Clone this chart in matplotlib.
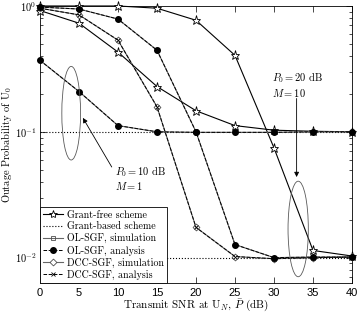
import numpy as np
import matplotlib
matplotlib.use('Agg')
import matplotlib.pyplot as plt
from matplotlib.patches import Ellipse
from matplotlib.lines import Line2D
from matplotlib.ticker import FixedLocator, FixedFormatter, NullFormatter, LogLocator

plt.rcParams['mathtext.fontset'] = 'cm'
plt.rcParams['font.family'] = 'cmr10'
plt.rcParams['axes.unicode_minus'] = False

# values (outage probability vs transmit SNR)
snr_db = [0, 5, 10, 15, 20, 25, 30, 35, 40]
gf_m10 = [1.0, 1.0, 1.0, 0.96, 0.77, 0.405, 0.0745, 0.0114, 0.0103]
gf_m1 = [0.92, 0.73, 0.43, 0.229, 0.147, 0.112, 0.103, 0.101, 0.100]
ol_m1 = [0.37, 0.209, 0.112, 0.100, 0.099, 0.099, 0.099, 0.100, 0.100]
ol_m10 = [0.98, 0.946, 0.787, 0.445, 0.100, 0.0127, 0.0100, 0.0101, 0.0101]
dcc_m10 = [0.96, 0.85, 0.535, 0.158, 0.0174, 0.0102, 0.0098, 0.0100, 0.0101]
gb_levels = [0.1, 0.01]

xticks = [0, 5, 10, 15, 20, 25, 30, 35, 40]
yticks = [1e-2, 1e-1, 1e0]
ytick_labels = [r'$\mathsf{10^{-2}}$', r'$\mathsf{10^{-1}}$', r'$\mathsf{10^{0}}$']

fig = plt.figure(figsize=(3.57, 3.15), dpi=100)
ax = fig.add_axes([0.112, 0.102, 0.874, 0.879])
ax.set_yscale('log')

lw = 0.8
# grant-based reference levels
for lv in gb_levels:
    ax.plot([snr_db[0], snr_db[-1]], [lv, lv], ':', color='k', lw=0.8)

# grant-free
for vals in (gf_m10, gf_m1):
    ax.plot(snr_db, vals, '-', color='k', lw=lw, marker='*', ms=6.5,
            mfc='white', mec='k', mew=0.6, clip_on=False, zorder=3)

# OL-SGF: simulation + analysis
for vals in (ol_m1, ol_m10):
    ax.plot(snr_db, vals, '-', color='0.4', lw=lw, marker='s', ms=3.5,
            mfc='none', mec='0.3', mew=0.6, clip_on=False, zorder=3)
    ax.plot(snr_db, vals, '--', color='k', lw=0.7, marker='o', ms=4,
            mfc='k', mec='k', clip_on=False, zorder=4)

# DCC-SGF: simulation + analysis
ax.plot(snr_db, dcc_m10, '-', color='0.4', lw=lw, marker='D', ms=3.5,
        mfc='white', mec='0.3', mew=0.6, clip_on=False, zorder=3)
ax.plot(snr_db, dcc_m10, '--', color='k', lw=0.7, marker='x', ms=3,
        mec='k', mew=0.6, clip_on=False, zorder=4)

ax.set_xlim(0, 40)
ax.set_ylim(6.3e-3, 1.0)

ax.xaxis.set_major_locator(FixedLocator(xticks))
ax.yaxis.set_major_locator(FixedLocator(yticks))
ax.yaxis.set_major_formatter(FixedFormatter(ytick_labels))
ax.yaxis.set_minor_locator(LogLocator(base=10, subs=np.arange(2, 10)))
ax.yaxis.set_minor_formatter(NullFormatter())
ax.tick_params(which='both', direction='in', top=True, right=True, width=0.5)
ax.tick_params(which='major', length=4, labelsize=8)
ax.tick_params(axis='y', which='major', pad=2.5, labelsize=7.5)
ax.tick_params(which='minor', length=2)
for lbl in ax.get_xticklabels():
    lbl.set_fontfamily('Liberation Sans')
for sp in ax.spines.values():
    sp.set_linewidth(0.6)

ax.set_xlabel(r'Transmit SNR at U$_N$, $\bar{P}$ (dB)', fontsize=8, labelpad=0.5)
ax.set_ylabel(r'Outage Probability of U$_0$', fontsize=7.5)
ax.yaxis.set_label_coords(-0.082, 0.5)


def data_ellipse(x0, x1, y0, y1):
    to_ax = ax.transAxes.inverted()
    (ax0, ay0), (ax1, ay1) = to_ax.transform(ax.transData.transform([(x0, y0), (x1, y1)]))
    e = Ellipse(((ax0 + ax1) / 2, (ay0 + ay1) / 2), abs(ax1 - ax0), abs(ay1 - ay0),
                transform=ax.transAxes, fill=False, ec='0.35', lw=0.6, zorder=5)
    ax.add_patch(e)


data_ellipse(2.8, 5.2, 0.0597, 0.331)
data_ellipse(31.8, 34.4, 0.00705, 0.0405)

arrow = dict(arrowstyle='-|>', lw=0.6, color='k', mutation_scale=7,
             shrinkA=0, shrinkB=0)
ax.annotate('', xy=(5.5, 0.129), xytext=(9.2, 0.0525), arrowprops=arrow)
ax.annotate('', xy=(32.9, 0.0437), xytext=(32.9, 0.184), arrowprops=arrow)
ax.text(9.6, 0.0425, '$P_0 = 10$ dB\n$M = 1$', fontsize=7.5, ha='left', va='center',
        linespacing=1.15)
ax.text(29.7, 0.235, '$P_0 = 20$ dB\n$M = 10$', fontsize=7.5, ha='left', va='center',
        linespacing=1.15)

handles = [
    Line2D([], [], color='k', lw=lw, marker='*', ms=6, mfc='white', mec='k', mew=0.6),
    Line2D([], [], color='k', lw=0.8, ls=':'),
    Line2D([], [], color='0.4', lw=lw, marker='s', ms=3.5, mfc='none', mec='0.3', mew=0.6),
    Line2D([], [], color='k', lw=0.7, ls='--', marker='o', ms=4, mfc='k'),
    Line2D([], [], color='0.4', lw=lw, marker='D', ms=3.5, mfc='white', mec='0.3', mew=0.6),
    Line2D([], [], color='k', lw=0.7, ls='--', marker='x', ms=3, mew=0.6),
]
labels = ['Grant-free scheme', 'Grant-based scheme', 'OL-SGF, simulation',
          'OL-SGF, analysis', 'DCC-SGF, simulation', 'DCC-SGF, analysis']
leg = ax.legend(handles, labels, loc='lower left', fontsize=7.2, borderaxespad=0,
                fancybox=False, framealpha=1, edgecolor='k', labelspacing=0.2,
                handlelength=2.0, handletextpad=0.4, borderpad=0.3)
leg.get_frame().set_linewidth(0.6)
leg.set_zorder(6)

fig.savefig('out.png', dpi=100)
